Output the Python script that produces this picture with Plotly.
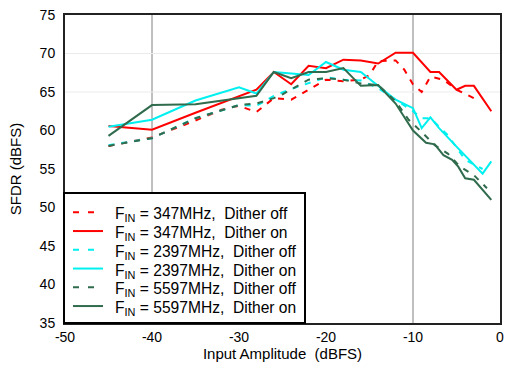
import plotly.graph_objects as go

# ---------------- data ----------------
red_off_x = [-45, -40, -35, -32, -30, -28, -26, -24, -22, -20, -18, -16, -15, -14, -12, -11, -10, -9, -8, -6.5, -5, -3]
red_off_y = [58.0, 59.1, 61.3, 62.7, 63.2, 62.4, 64.2, 64.0, 65.3, 66.6, 66.4, 66.6, 67.2, 69.0, 69.1, 67.9, 66.0, 65.0, 67.0, 66.6, 65.3, 64.2]

red_on_x = [-45, -40, -35, -30, -28, -26, -24, -22, -20, -18, -16, -14, -12, -10, -8, -7, -5, -4, -3, -1]
red_on_y = [60.6, 60.1, 62.3, 64.4, 65.3, 67.6, 66.0, 68.4, 68.1, 69.2, 69.1, 68.7, 70.1, 70.1, 67.6, 67.6, 65.3, 65.8, 65.8, 62.5]

cyan_off_x = [-45, -40, -35, -30, -28, -26, -24, -22, -20, -18, -16, -14, -12, -10, -9, -8, -6, -4, -2]
cyan_off_y = [58.1, 59.0, 61.6, 63.3, 63.2, 64.5, 65.4, 66.2, 66.9, 66.6, 66.5, 65.5, 64.0, 62.5, 61.6, 61.6, 59.4, 56.2, 55.0]

cyan_on_x = [-45, -40, -35, -30, -28, -26, -24, -22, -20, -18, -16, -14, -12, -10, -9, -8, -7, -5, -2, -1]
cyan_on_y = [60.5, 61.4, 63.9, 65.6, 64.8, 67.6, 67.4, 67.2, 68.9, 67.9, 67.6, 65.8, 64.0, 62.9, 60.3, 61.7, 60.3, 57.9, 54.4, 56.0]

green_off_x = [-45, -40, -35, -30, -28, -26, -25, -24, -22, -20, -18, -16, -14, -12, -10.5, -9, -7.5, -6, -4.6, -3, -1.5]
green_off_y = [58.0, 59.0, 61.6, 63.3, 63.5, 64.2, 64.7, 65.3, 66.6, 66.8, 66.6, 66.1, 65.9, 63.8, 61.4, 59.8, 58.1, 57.0, 55.3, 54.2, 52.5]

green_on_x = [-45, -40, -35, -30, -28, -26, -24, -22, -20, -18, -16, -14, -12, -10, -8.5, -7.5, -6.5, -5.5, -4.8, -4, -3, -1]
green_on_y = [59.3, 63.3, 63.4, 64.2, 64.5, 67.6, 66.8, 67.6, 67.6, 68.1, 65.8, 65.9, 63.5, 60.0, 58.4, 58.2, 56.8, 56.2, 55.3, 53.8, 53.6, 51.0]

names = [
    "F<sub>IN</sub> = 347MHz,&nbsp; Dither off",
    "F<sub>IN</sub> = 347MHz,&nbsp; Dither on",
    "F<sub>IN</sub> = 2397MHz,&nbsp; Dither off",
    "F<sub>IN</sub> = 2397MHz,&nbsp; Dither on",
    "F<sub>IN</sub> = 5597MHz,&nbsp; Dither off",
    "F<sub>IN</sub> = 5597MHz,&nbsp; Dither on",
]

x_ticks = [-50, -40, -30, -20, -10, 0]
y_ticks = [35, 40, 45, 50, 55, 60, 65, 70, 75]
major_x_grid = [-40, -10]
faint_y_grid = [65, 70]

RED = "#ff0000"
CYAN = "#00f0f0"
GREEN = "#2f6b4c"
TRACE_DASH = "6px,7px"
LEGEND_DASH = "6px,9px"

series = [
    (red_off_x, red_off_y, RED, True),
    (red_on_x, red_on_y, RED, False),
    (cyan_off_x, cyan_off_y, CYAN, True),
    (cyan_on_x, cyan_on_y, CYAN, False),
    (green_off_x, green_off_y, GREEN, True),
    (green_on_x, green_on_y, GREEN, False),
]

fig = go.Figure()
for (xs, ys, col, dashed), nm in zip(series, names):
    fig.add_trace(go.Scatter(x=xs, y=ys, mode="lines", name=nm, showlegend=False,
                             line=dict(color=col, width=2,
                                       dash=TRACE_DASH if dashed else "solid")))

# plot-area pixel geometry (used only for placing the hand-built legend)
W, H = 505, 370
ML, MR, MT, MB = 65, 5, 15, 47
PW, PH = W - ML - MR, H - MT - MB


def px(xp):
    return (xp - ML) / PW


def py(yp):
    return (H - MB - yp) / PH


shapes = []
for gx in major_x_grid:
    shapes.append(dict(type="line", xref="x", yref="paper", x0=gx, x1=gx, y0=0, y1=1,
                       line=dict(color="#808080", width=1), layer="below"))
for gy in faint_y_grid:
    shapes.append(dict(type="line", xref="paper", yref="y", x0=0, x1=1, y0=gy, y1=gy,
                       line=dict(color="#ebebeb", width=1), layer="below"))

# legend box
shapes.append(dict(type="rect", xref="paper", yref="paper",
                   x0=px(64), x1=px(305), y0=py(323), y1=py(193),
                   fillcolor="white", line=dict(color="#000000", width=2), layer="above"))

annotations = []
row0, row_step = 212.3, 18.75
for i, ((xs, ys, col, dashed), nm) in enumerate(zip(series, names)):
    yr = row0 + i * row_step
    shapes.append(dict(type="line", xref="paper", yref="paper",
                       x0=px(73), x1=px(103), y0=py(yr), y1=py(yr),
                       line=dict(color=col, width=2, dash=LEGEND_DASH if dashed else "solid"),
                       layer="above"))
    annotations.append(dict(xref="paper", yref="paper", x=px(112.5), y=py(yr + 2.5),
                            xanchor="left", yanchor="middle", showarrow=False,
                            text=nm, font=dict(size=15.6), align="left"))

font_family = "Liberation Sans, Arial, sans-serif"
fig.update_layout(
    width=W, height=H,
    margin=dict(l=ML, r=MR, t=MT, b=MB),
    paper_bgcolor="white", plot_bgcolor="white",
    font=dict(family=font_family, color="#000000"),
    shapes=shapes,
    annotations=annotations,
    showlegend=False,
    xaxis=dict(range=[-50, 0], tickvals=x_ticks, ticktext=[str(v) for v in x_ticks],
               showgrid=False, zeroline=False, showline=True, linecolor="#222222",
               linewidth=2, mirror=True, ticks="", tickfont=dict(size=14),
               automargin=False,
               title=dict(text="Input Amplitude&nbsp; (dBFS)", font=dict(size=15), standoff=4)),
    yaxis=dict(range=[35, 75], tickvals=y_ticks, ticktext=[str(v) for v in y_ticks],
               showgrid=False, zeroline=False, showline=True, linecolor="#222222",
               linewidth=2, mirror=True, ticks="", tickfont=dict(size=14),
               ticklabelstandoff=5, automargin=False,
               title=dict(text="SFDR (dBFS)", font=dict(size=15), standoff=14)),
)

fig.write_html("out.html",
               config={"displayModeBar": False, "staticPlot": True},
               post_script="document.body.style.margin='0';document.body.style.padding='0';")
